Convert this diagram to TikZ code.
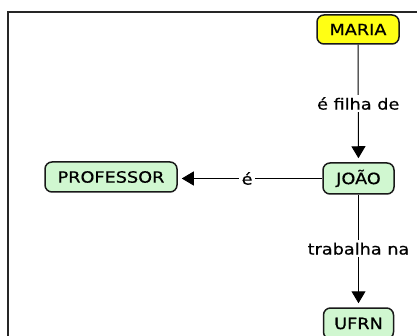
\documentclass[tikz,border=0pt]{standalone}
\usepackage{fontspec}
\setmainfont[FakeStretch=1.14,FakeBold=0.6]{DejaVu Sans}
\usetikzlibrary{arrows.meta}
\definecolor{conceptgreen}{RGB}{208,247,208}
\definecolor{conceptyellow}{RGB}{255,255,20}
\definecolor{edgeink}{RGB}{25,25,25}
\begin{document}
\begin{tikzpicture}[x=1pt,y=-1pt,
  concept/.style={draw=edgeink,line width=1.5pt,rounded corners=7pt,fill=conceptgreen,
    inner sep=0pt,font=\fontsize{15.5}{18}\selectfont,text=black},
  link/.style={draw=black,line width=1pt},
  linkarrow/.style={link,-{Triangle[width=14pt,length=12pt]},shorten >=4pt},
  linklabel/.style={fill=white,inner sep=2.5pt,font=\fontsize{15.5}{18}\selectfont,text=black}]
\useasboundingbox (0,0) rectangle (417,336);
\fill[white] (0,0) rectangle (417,336);
\draw[line width=1.3pt,draw=black!85] (8,12) rectangle (425,345);
\node[concept,fill=conceptyellow,minimum width=82pt,minimum height=29pt] (maria) at (358,29.5) {MARIA};
\node[concept,minimum width=71pt,minimum height=31pt] (joao) at (358.5,178.5) {JOÃO};
\node[concept,minimum width=132pt,minimum height=30pt] (prof) at (111,177) {PROFESSOR};
\node[concept,minimum width=70pt,minimum height=31pt] (ufrn) at (358.5,323.5) {UFRN};
\draw[linkarrow] (maria) -- node[linklabel]{é filha de} (joao);
\draw[linkarrow] (joao.west) -- node[linklabel,pos=0.52]{é} (prof.east|-joao.west);
\draw[linkarrow] (joao) -- node[linklabel,pos=0.48]{trabalha na} (ufrn);
\end{tikzpicture}
\end{document}
